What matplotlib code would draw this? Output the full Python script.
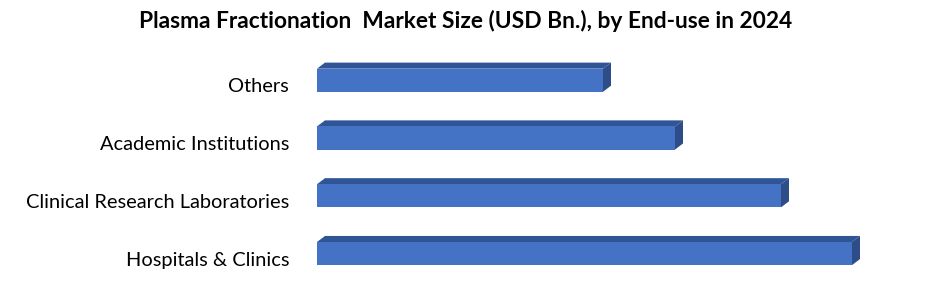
import matplotlib.pyplot as plt
import matplotlib.transforms as mtransforms
from matplotlib.patches import Polygon

categories = ["Hospitals & Clinics", "Clinical Research Laboratories",
              "Academic Institutions", "Others"]
values = [5.35, 4.64, 3.58, 2.86]

front = "#4472c4"
top_c = "#2f5597"
side_c = "#2c4d87"

fig = plt.figure(figsize=(9.4, 2.9), dpi=100)
ax = fig.add_axes([317 / 940, 0.026, 560 / 940, 0.797])

h = 0.4
dx, dy = 0.08, 0.105
ys = range(len(categories))
ax.barh(ys, values, height=h, color=front, zorder=2)
for y, v in zip(ys, values):
    t, b = y + h / 2, y - h / 2
    ax.add_patch(Polygon([(0, t), (dx, t + dy), (v + dx, t + dy), (v, t)],
                         closed=True, color=top_c, lw=0, zorder=1))
    ax.add_patch(Polygon([(v, b), (v + dx, b + dy), (v + dx, t + dy), (v, t)],
                         closed=True, color=side_c, lw=0, zorder=1))

ax.set_xlim(0, 5.6)
ax.set_ylim(-0.5, 3.5)
ax.set_yticks(list(ys))
ax.set_yticklabels(categories, fontsize=14.4, family="Lato")
ax.tick_params(axis="y", length=0, pad=20)
# labels sit a little below the bar centres
shift = mtransforms.ScaledTranslation(0, -5 / 100, fig.dpi_scale_trans)
for lbl in ax.get_yticklabels():
    lbl.set_transform(lbl.get_transform() + shift)
ax.set_xticks([])
for s in ax.spines.values():
    s.set_visible(False)

fig.text(466 / 940, 1 - 21 / 290, "Plasma Fractionation  Market Size (USD Bn.), by End-use in 2024",
         ha="center", va="center", fontsize=16.4, fontweight="bold", family="Lato")

fig.savefig("out.png")
